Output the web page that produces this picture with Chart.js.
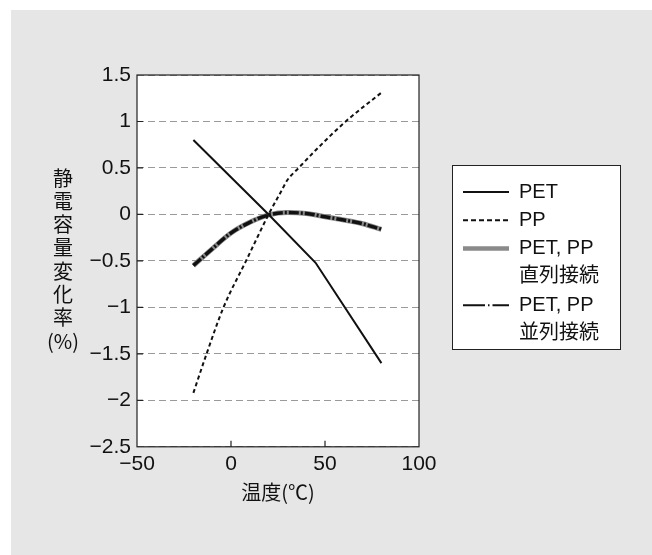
<!DOCTYPE html>

<head>
    <meta charset="utf-8">
    <title>静電容量変化率</title>
    <style>
        body {
            margin: 0;
            background: #fff;
        }
    </style>
    <script src="https://cdn.jsdelivr.net/npm/chart.js"></script>
</head>

<body>
    <canvas id="myChart" width="652" height="555"></canvas>

    <script>
        // values: temperature (℃) -> capacitance change (%)
        var petTemp = [-20, 20, 45, 80];
        var petVal = [0.8, 0, -0.52, -1.6];

        var ppTemp = [-20, -13, -4, 8, 20, 27, 30, 36, 45, 61, 80];
        var ppVal = [-1.92, -1.5, -1, -0.5, 0, 0.26, 0.37, 0.5, 0.69, 1.0, 1.31];

        var mixTemp = [-20, -10, 0, 10, 20, 30, 40, 50, 60, 70, 80];
        var seriesVal = [-0.55, -0.37, -0.2, -0.085, -0.005, 0.02, 0.01, -0.025, -0.06, -0.1, -0.16];   // 直列接続
        var parallelVal = [-0.55, -0.37, -0.2, -0.085, -0.005, 0.02, 0.01, -0.025, -0.06, -0.1, -0.16]; // 並列接続

        var xTicks = [-50, 0, 50, 100];
        var yTicks = [-2.5, -2, -1.5, -1, -0.5, 0, 0.5, 1, 1.5];
        var yTitle = ['静', '電', '容', '量', '変', '化', '率', '(%)'];

        var latin = '"Liberation Sans", Arial, "Noto Sans CJK JP", sans-serif';
        var cjk = '"Noto Sans CJK JP", "Liberation Sans", sans-serif';

        function pts(xs, ys) {
            var out = [];
            for (var i = 0; i < xs.length; i++) {
                out.push({ x: xs[i], y: ys[i] });
            }
            return out;
        }

        function fmt(v) {
            return v < 0 ? '\u2212' + Math.abs(v) : String(v);
        }

        var decor = {
            id: 'decor',
            beforeDraw: function (chart) {
                var ctx = chart.ctx, a = chart.chartArea;
                ctx.save();
                ctx.fillStyle = '#e6e6e6';
                ctx.fillRect(11, 10, chart.width - 11, chart.height - 10);
                ctx.fillStyle = '#fff';
                ctx.fillRect(a.left, a.top, a.right - a.left, a.bottom - a.top);
                ctx.restore();
            },
            afterDatasetsDraw: function (chart) {
                var ctx = chart.ctx, a = chart.chartArea;
                var xs = chart.scales.x, ys = chart.scales.y;
                ctx.save();

                // frame + inward tick marks
                ctx.strokeStyle = '#222';
                ctx.lineWidth = 1.2;
                ctx.setLineDash([]);
                ctx.strokeRect(a.left, a.top, a.right - a.left, a.bottom - a.top);
                ctx.beginPath();
                yTicks.forEach(function (v) {
                    if (v == ys.min || v == ys.max) return;
                    var p = ys.getPixelForValue(v);
                    ctx.moveTo(a.left, p);
                    ctx.lineTo(a.left + 6, p);
                });
                xTicks.forEach(function (v) {
                    if (v == xs.min || v == xs.max) return;
                    var p = xs.getPixelForValue(v);
                    ctx.moveTo(p, a.bottom);
                    ctx.lineTo(p, a.bottom - 6);
                });
                ctx.stroke();

                // vertical y title, one character per line
                ctx.fillStyle = '#111';
                ctx.font = '20px ' + cjk;
                ctx.textAlign = 'center';
                ctx.textBaseline = 'middle';
                yTitle.forEach(function (t, i) {
                    ctx.fillText(t, 63, 178 + i * 23.3);
                });

                // legend
                var lx = 452, ly = 165, lw = 168, lh = 184;
                ctx.fillStyle = '#fff';
                ctx.fillRect(lx, ly, lw, lh);
                ctx.strokeStyle = '#222';
                ctx.lineWidth = 1;
                ctx.strokeRect(lx + 0.5, ly + 0.5, lw, lh);
                ctx.font = '20px ' + latin;
                ctx.textAlign = 'left';
                var row = 0;
                chart.data.datasets.forEach(function (ds) {
                    var lines = ds.label.split('\n');
                    var y = 192 + row * 28.3;
                    ctx.beginPath();
                    ctx.setLineDash(ds.legendDash || []);
                    ctx.lineWidth = ds.legendWidth || ds.borderWidth;
                    ctx.strokeStyle = ds.borderColor;
                    ctx.moveTo(463, y);
                    ctx.lineTo(509, y);
                    ctx.stroke();
                    ctx.fillStyle = '#111';
                    lines.forEach(function (t, k) {
                        ctx.fillText(t, 519, y + k * 28.3);
                    });
                    row += lines.length;
                });
                ctx.restore();
            }
        };

        var ctx = document.getElementById('myChart').getContext('2d');
        window.myChart = new Chart(ctx, {
            type: 'scatter',
            data: {
                datasets: [{
                    label: 'PET',
                    data: pts(petTemp, petVal),
                    showLine: true,
                    borderColor: '#111',
                    borderWidth: 2,
                    order: 0
                }, {
                    label: 'PP',
                    data: pts(ppTemp, ppVal),
                    showLine: true,
                    borderColor: '#111',
                    borderWidth: 2,
                    borderDash: [4, 3],
                    legendDash: [5, 3],
                    cubicInterpolationMode: 'monotone',
                    order: 0
                }, {
                    label: 'PET, PP\n直列接続',
                    data: pts(mixTemp, seriesVal),
                    showLine: true,
                    borderColor: '#8a8a8a',
                    borderWidth: 5,
                    legendWidth: 4.5,
                    cubicInterpolationMode: 'monotone',
                    order: 2
                }, {
                    label: 'PET, PP\n並列接続',
                    data: pts(mixTemp, parallelVal),
                    showLine: true,
                    borderColor: '#111',
                    borderWidth: 3.5,
                    borderDash: [10, 2, 2, 2],
                    legendDash: [22, 3, 1.5, 3],
                    legendWidth: 2,
                    cubicInterpolationMode: 'monotone',
                    order: 1
                }]
            },
            options: {
                responsive: false,
                animation: false,
                elements: { point: { radius: 0, hoverRadius: 0 } },
                layout: { padding: { left: 0, right: 233, top: 75, bottom: 51 } },
                plugins: {
                    legend: { display: false },
                    tooltip: { enabled: false }
                },
                scales: {
                    x: {
                        type: 'linear',
                        min: -50,
                        max: 100,
                        afterBuildTicks: function (s) {
                            s.ticks = xTicks.map(function (v) { return { value: v }; });
                        },
                        grid: { display: false, drawTicks: false, tickLength: 0 },
                        border: { display: false },
                        ticks: {
                            color: '#111',
                            padding: 5,
                            maxRotation: 0,
                            font: { family: latin, size: 21 },
                            callback: fmt
                        },
                        title: {
                            display: true,
                            text: '温度(℃)',
                            color: '#111',
                            font: { family: cjk, size: 20 },
                            padding: { top: -2, bottom: 0 }
                        }
                    },
                    y: {
                        min: -2.5,
                        max: 1.5,
                        afterBuildTicks: function (s) {
                            s.ticks = yTicks.map(function (v) { return { value: v }; });
                        },
                        afterFit: function (s) {
                            s.width = 137;
                        },
                        grid: { color: '#9a9a9a', lineWidth: 1, drawTicks: false },
                        border: { display: false, dash: [7, 4] },
                        ticks: {
                            color: '#111',
                            padding: 6,
                            font: { family: latin, size: 21 },
                            callback: fmt
                        }
                    }
                }
            },
            plugins: [decor]
        });
    </script>
</body>
